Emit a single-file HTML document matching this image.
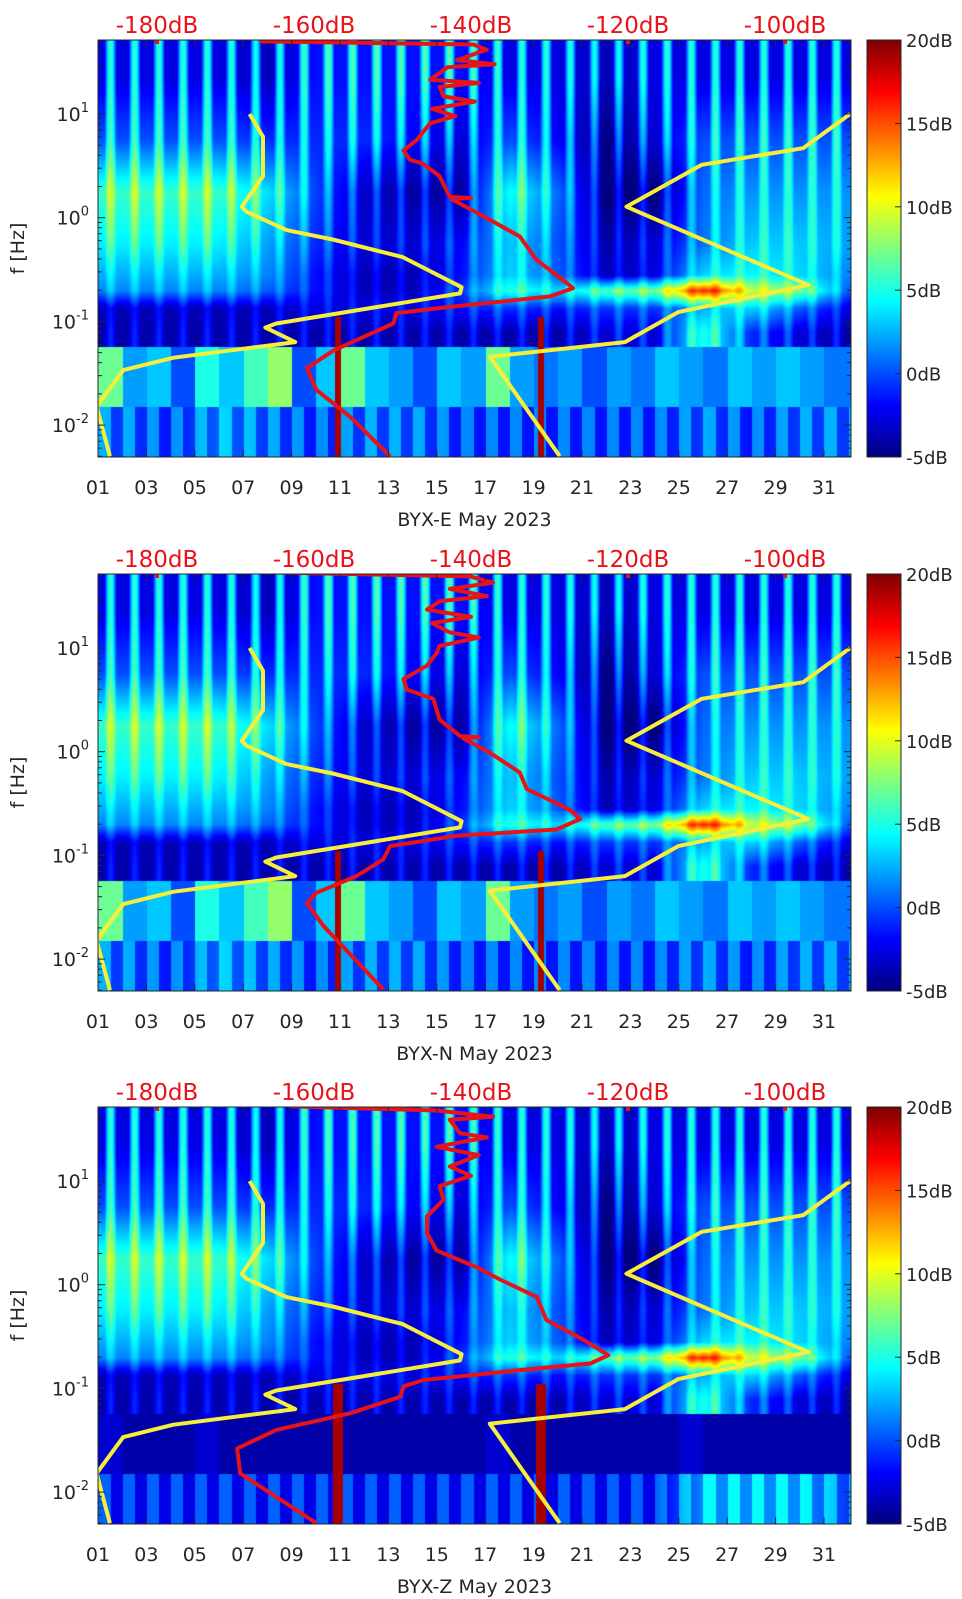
<!DOCTYPE html>
<html><head><meta charset="utf-8">
<style>
body{margin:0;background:#fff;width:962px;height:1599px;position:relative;overflow:hidden;font-family:"DejaVu Sans","Liberation Sans",sans-serif}
canvas{position:absolute}
#ov{position:absolute;left:0;top:0}
</style></head>
<body>
<canvas id="c0" width="753" height="417" style="left:98px;top:40px"></canvas>
<canvas id="c1" width="753" height="417" style="left:98px;top:574px"></canvas>
<canvas id="c2" width="753" height="417" style="left:98px;top:1107px"></canvas>
<svg id="ov" width="962" height="1599" xmlns="http://www.w3.org/2000/svg">
<defs>
<linearGradient id="jet" x1="0" y1="1" x2="0" y2="0">
<stop offset="0" stop-color="#00007f"/><stop offset="0.125" stop-color="#0000ff"/><stop offset="0.375" stop-color="#00ffff"/><stop offset="0.625" stop-color="#ffff00"/><stop offset="0.875" stop-color="#ff0000"/><stop offset="1" stop-color="#7f0000"/>
</linearGradient>
</defs>
</svg>
<script>
const panelTops=[40,574,1107];
const panelNames=['BYX-E May 2023','BYX-N May 2023','BYX-Z May 2023'];
const dayTicks=['01','03','05','07','09','11','13','15','17','19','21','23','25','27','29','31'];
const dbTicks=[-180,-160,-140,-120,-100];
const cbTicks=[-5,0,5,10,15,20];
const yDecades=[1,0,-1,-2];

const lowModelDb=[-168.2,-166.5,-166.5,-169.2,-168.6,-163.5,-157.6,-148.7,-141.2,-141.4,-164.8,-166.2,-162.4,-177.9,-184.3,-187.7,-186];
const lowModelLogf=[1.0,0.78,0.40,0.106,0.058,-0.12,-0.21,-0.38,-0.67,-0.73,-1.02,-1.06,-1.2,-1.35,-1.47,-1.82,-2.30];
const highModelDb=[-91.7,-97.7,-110.6,-120.2,-97.0,-113.6,-120.4,-137.6,-128.7];
const highModelLogf=[1.0,0.67,0.51,0.106,-0.65,-0.91,-1.2,-1.34,-2.30];

const redDbE=[-166.9,-139.7,-138.0,-141.8,-137,-143,-145.2,-139,-144,-143.5,-139.5,-145,-142,-145.2,-146.9,-148.6,-147.8,-146.1,-144.0,-142.7,-140,-142.5,-137.6,-133.8,-131.6,-127.8,-127.0,-130.0,-142.7,-149.5,-149.9,-157.5,-160.9,-159.7,-155.4,-150.3];
const redLogfE=[1.70,1.67,1.62,1.52,1.48,1.45,1.33,1.30,1.26,1.17,1.12,1.05,0.98,0.91,0.75,0.65,0.56,0.52,0.40,0.20,0.19,0.18,-0.02,-0.18,-0.41,-0.63,-0.68,-0.76,-0.86,-0.92,-1.02,-1.28,-1.45,-1.66,-1.92,-2.30];
const redDbN=[-166.5,-140.1,-137.2,-142.7,-138,-144,-145.6,-140,-145,-142.7,-139,-144,-144.4,-145.6,-148.6,-148.2,-144.8,-144.0,-141.4,-139,-141,-137.6,-133.8,-132.9,-127.4,-126.1,-129.1,-141.8,-150.3,-151.2,-154.6,-159.7,-160.9,-158.8,-151.2];
const redLogfN=[1.73,1.69,1.63,1.57,1.50,1.45,1.37,1.30,1.24,1.15,1.10,1.02,0.95,0.83,0.70,0.60,0.51,0.31,0.15,0.14,0.13,-0.01,-0.20,-0.36,-0.56,-0.65,-0.75,-0.81,-0.91,-1.04,-1.20,-1.36,-1.46,-1.68,-2.29];
const redDbZ=[-163.1,-144.4,-137.2,-142.7,-141.4,-138,-144.4,-139,-142.7,-140,-144.0,-143.5,-145.6,-145.6,-144.4,-139.3,-136.3,-131.6,-130.4,-125.7,-122.5,-124.8,-133.3,-146.1,-148.6,-149.0,-155.4,-164.8,-169.8,-169.4,-159.7];
const redLogfZ=[1.72,1.68,1.62,1.59,1.46,1.42,1.33,1.25,1.14,1.05,0.95,0.82,0.66,0.50,0.33,0.17,0.05,-0.12,-0.34,-0.53,-0.68,-0.76,-0.82,-0.92,-0.98,-1.08,-1.24,-1.40,-1.58,-1.82,-2.30];

const bandCenters=[1.36,0.75,0.25,-0.25,-0.55,-0.7,-0.87,-1.1];
const band0=[0,0,0,-1,1,1,1,1,0,0,-1,0,0,0,0,0];
const band1=[2,2,2,1,1,1,0,-1,2,0,-3,-1,2,2,2,2];
const band2=[7,7,7,5,1,-2,-3,-3,6,2,-4,-4,2,3,3,3];
const band3=[5,5,5,3,0,-2,-2,-1,4,1,-3,-2,2,4,4,3];
const band3b=[3,3,3,2,-1,-3,-3,-1,4,1,-3,-2,4,5,4,2];
const band4=[2,2,2,1,-1,-3,-3,0,6,4,7,8,17,10,8,1];
const band5=[-3,-3,-3,-3,-2,-2,-2,-1,0,-1,0,0,3,4,1,-2];
const band6=[-3,-3,-3,-3,-3,-3,-3,-3,-3,-3,-2,-2,6,0,-2,-3];
const bandAmp=[4,3,2,1.5,1,1,1,1.5];
const lowDailyEN=[7,2,3,0,5,3,6,8,0,3,7,3,2,0,3,2,7,2,1,2,0,2,1,3,2,1,3,2,3,2,1,1];
const lowDailyZ=[-3,-4,-4,-4,-3,-4,-4,-4,-4,-4,-4,-4,-4,-4,-4,-4,-3,-4,-4,-4,-4,-4,-4,-4,-3,-4,-4,-4,-4,-4,-4,-4];
const bottomEN=[1,0,2,1,0,1,1,0,0,0,0,0,1,0,1,1];
const bottomZ=[-1,-1,-1,-1,-1,-1,-1,-1,-1,-1,-1,-1,3,3,3,1];
const eventDays=[10.9,19.3];

const L=98,W=753,H=417,PX=24.2;
function X(d){return L+(d-1)*PX;}
function Yr(lf){return 74+(1-lf)*103.7;}
function DBX(db){return 157+(db+180)*7.85;}
function jet(v){let t=(v+5)/25;t=Math.max(0,Math.min(1,t));
 const c=x=>Math.max(0,Math.min(1,1.5-Math.abs(x)));
 return [c(4*t-3)*255,c(4*t-2)*255,c(4*t-1)*255];}

const bands=[band0,band1,band2,band3,band3b,band4,band5,band6];
function binVal(arr,day){
 const p=(day-2)/2;let i=Math.floor(p);const f=p-i;
 const a=arr[Math.max(0,Math.min(15,i))],b=arr[Math.max(0,Math.min(15,i+1))];return a+(b-a)*f;}

function drawSpec(ci){
 const cv=document.getElementById('c'+ci),ctx=cv.getContext('2d');
 const img=ctx.createImageData(W,H),D=img.data;
 const low=ci===2?lowDailyZ:lowDailyEN,bot=ci===2?bottomZ:bottomEN;
 const nb=bandCenters.length;
 for(let px=0;px<W;px++){
  const day=1+px/PX,frac=day-Math.floor(day);
  const cs=Math.max(0,Math.cos(2*Math.PI*(frac-0.5)));
  const st=2*cs-0.64;
  const bv=bands.map((a,k)=>binVal(a,day)+bandAmp[k]*st);
  const lowV=low[Math.min(31,Math.floor(day)-1)];
  const botV=binVal(bot,day)+(frac<0.5?1.5:-1.5);
  let evt=0;for(const e of eventDays){const dx=Math.abs(X(e)-L-px);if(dx<(ci===2?5:3))evt=1;}
  for(let py=0;py<H;py++){
   const lf=1-(py-74)/103.7;let v;
   if(lf<-1.82)v=botV;
   else if(lf<-1.24)v=lowV;
   else{
    if(lf>=bandCenters[0])v=bv[0];
    else if(lf<=bandCenters[nb-1])v=bv[nb-1];
    else{for(let k=0;k<nb-1;k++){if(lf<=bandCenters[k]&&lf>=bandCenters[k+1]){const f=(bandCenters[k]-lf)/(bandCenters[k]-bandCenters[k+1]);v=bv[k]+(bv[k+1]-bv[k])*f;break;}}}
   }
   if(evt&&lf<-0.95)v=19;
   const c=jet(v),o=(py*W+px)*4;
   D[o]=c[0];D[o+1]=c[1];D[o+2]=c[2];D[o+3]=255;
  }
 }
 ctx.putImageData(img,0,0);
}
[0,1,2].forEach(drawSpec);

const svg=document.getElementById('ov');const NS='http://www.w3.org/2000/svg';
function el(tag,attrs,parent){const e=document.createElementNS(NS,tag);for(const k in attrs)e.setAttribute(k,attrs[k]);(parent||svg).appendChild(e);return e;}
const ink='#262626';

panelTops.forEach((T,pi)=>{
 const g=el('g',{});
 
 
 const clip=el('clipPath',{id:'clip'+pi},g);el('rect',{x:L,y:T,width:W,height:H},clip);
 const curves=el('g',{'clip-path':'url(#clip'+pi+')'},g);
 const line=(dbs,lfs,color,name)=>{
  const pts=dbs.map((d,i)=>DBX(d).toFixed(1)+','+(T+Yr(lfs[i])).toFixed(1)).join(' ');
  const p=el('polyline',{points:pts,fill:'none',stroke:color,'stroke-width':4,'stroke-linejoin':'round'},curves);
  
  
 };
 line(lowModelDb,lowModelLogf,'#f7ee3a','low-noise-model-line');
 line(highModelDb,highModelLogf,'#f7ee3a','high-noise-model-line');
 const rd=[redDbE,redDbN,redDbZ][pi],rl=[redLogfE,redLogfN,redLogfZ][pi];
 line(rd,rl,'#e8121a','station-noise-line');
 [-180,-120,-100].forEach(v=>{const m=el('rect',{x:DBX(v)-2,y:T,width:4,height:4,fill:'#e8121a'},curves);
  
  });
 el('rect',{x:L,y:T,width:W,height:H,fill:'none',stroke:ink,'stroke-width':1},g);
 dayTicks.forEach(t=>{const x=X(+t);
  el('line',{x1:x,y1:T+H,x2:x,y2:T+H-7,stroke:ink},g);
  el('line',{x1:x,y1:T,x2:x,y2:T+7,stroke:ink},g);
  const tx=el('text',{x:x,y:T+H+37,'text-anchor':'middle','font-size':19,fill:ink},g);tx.textContent=t;
  
  
 });
 const xl=el('text',{x:L+W/2,y:T+H+69,'text-anchor':'middle','font-size':19,fill:ink},g);xl.textContent=panelNames[pi];
 
 
 dbTicks.forEach(v=>{const t=el('text',{x:DBX(v),y:T-7,'text-anchor':'middle','font-size':23,fill:'#e8121a'},g);t.textContent=v+'dB';
  
  });
 for(let dec=-3;dec<=1;dec++){for(let k=1;k<=9;k++){const lf=dec+Math.log10(k);const y=T+Yr(lf);
  if(y<T||y>T+H)continue;const len=k===1?7:4;
  el('line',{x1:L,y1:y,x2:L+len,y2:y,stroke:ink},g);
  el('line',{x1:L+W,y1:y,x2:L+W-len,y2:y,stroke:ink},g);}}
 yDecades.forEach(dv=>{const y=T+Yr(dv);
  const t=el('text',{x:89,y:y+7,'text-anchor':'end','font-size':19,fill:ink},g);
  
  
  t.appendChild(document.createTextNode('10'));
  const s=el('tspan',{dy:-9,'font-size':13},t);s.textContent=String(dv);});
 const yl=el('text',{x:24,y:T+H/2,'text-anchor':'middle','font-size':19,fill:ink,transform:'rotate(-90 24 '+(T+H/2)+')'},g);yl.textContent='f [Hz]';
 
 
 const cb=el('rect',{x:867,y:T,width:34,height:H,fill:'url(#jet)',stroke:ink,'stroke-width':1},g);
 
 
 cbTicks.forEach(v=>{const y=T+H-(v+5)/25*H;
  el('line',{x1:895,y1:y,x2:901,y2:y,stroke:ink},g);
  const t=el('text',{x:906,y:y+7,'font-size':18,fill:ink},g);t.textContent=v+'dB';
  
  });
});
</script>
</body></html>
